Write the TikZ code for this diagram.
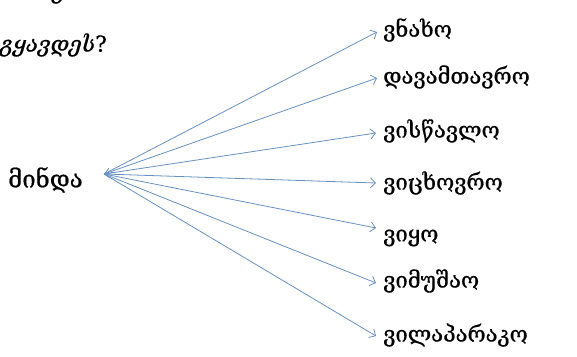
\documentclass[tikz,border=0pt]{standalone}
\usepackage{fontspec}
\setmainfont[FakeBold=0.8,AutoFakeBold=0.8]{DejaVu Serif}
\usetikzlibrary{arrows.meta,calc}
\definecolor{arrowblue}{HTML}{6690C2}
\begin{document}
\begin{tikzpicture}[x=1pt,y=-1pt,
  word/.style={anchor=west,inner sep=0pt,font=\fontsize{22}{22}\selectfont\bfseries},
  link/.style={draw=arrowblue,line width=0.8pt,-{Straight Barb[length=5pt,width=10pt]}}]
\useasboundingbox (0,0) rectangle (577,356);
\node[word,font=\fontsize{22}{22}\selectfont\itshape] (top) at (52,-8) {ქს};
\node[word,font=\fontsize{22}{22}\selectfont\itshape] (q) at (0,45) {გყავდეს\upshape?};
\node[word,font=\fontsize{24}{24}\selectfont\bfseries] (minda) at (8,180) {მინდა};
\coordinate (o) at (104,174);
\node[word] (w1) at (383,30) {ვნახო};
\node[word] (w2) at (383,77) {დავამთავრო};
\node[word] (w3) at (383,131) {ვისწავლო};
\node[word] (w4) at (383,183) {ვიცხოვრო};
\node[word] (w5) at (383,238) {ვიყო};
\node[word] (w6) at (383,281) {ვიმუშაო};
\node[word] (w7) at (383,335) {ვილაპარაკო};
\coordinate (t1) at (377,32);
\coordinate (t2) at (377,78);
\coordinate (t3) at (376,133);
\coordinate (t4) at (376,183);
\coordinate (t5) at (376,228);
\coordinate (t6) at (376,283);
\coordinate (t7) at (376,336);
\coordinate (s) at ($(o)!0.04!(t3)$);
\foreach \i in {1,...,7} \draw[link] (o) -- (t\i);
\draw[link,{Straight Barb[length=5pt,width=10pt]}-] (o) -- (s);
\end{tikzpicture}
\end{document}
